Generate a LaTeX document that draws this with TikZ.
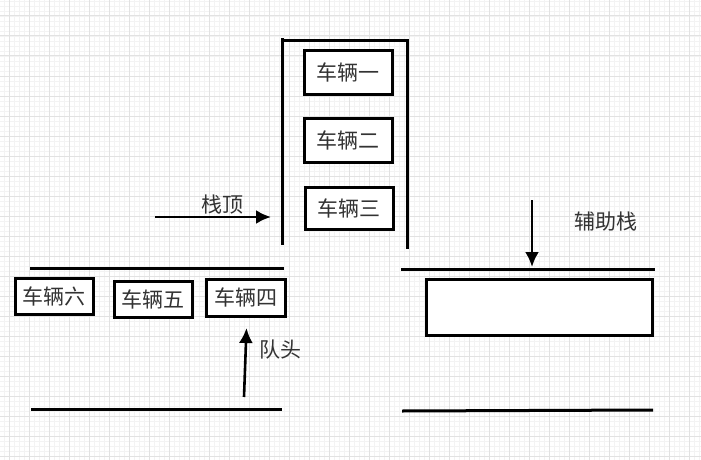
\documentclass[tikz,border=0pt]{standalone}
\usepackage{fontspec}
\newfontfamily\cjk{Noto Sans CJK SC}
\usetikzlibrary{arrows.meta}
\definecolor{gridmajor}{HTML}{E2E2E2}
\definecolor{gridminor}{HTML}{F3F3F3}
\definecolor{txt}{HTML}{333333}
\begin{document}
\begin{tikzpicture}[x=1pt,y=-1pt,
  car/.style={draw=black,line width=3pt,fill=white,inner sep=0pt,
    font=\cjk\fontsize{21}{21}\selectfont,text=txt},
  lbl/.style={inner sep=0pt,font=\cjk\fontsize{21}{21}\selectfont,text=txt},
  wall/.style={line width=3pt,line cap=butt},
  arr/.style={line width=2.6pt,-{Latex[length=15pt,width=14pt]}}]
\useasboundingbox (0,0) rectangle (701,460);
\fill[white] (0,0) rectangle (701,460);
% grid
\foreach \x in {4.5,9.5,...,701} \draw[gridminor,line width=0.8pt] (\x,0) -- (\x,460);
\foreach \y in {1,6,...,460} \draw[gridminor,line width=0.8pt] (0,\y) -- (701,\y);
\foreach \x in {9.5,29.5,...,701} \draw[gridmajor,line width=1pt] (\x,0) -- (\x,460);
\foreach \y in {16,36,...,460} \draw[gridmajor,line width=1pt] (0,\y) -- (701,\y);
% stack
\draw[wall] (282,245) -- (282,38);
\draw[wall] (282,41) -- (407,41) -- (407,249);
\node[car,minimum width=88pt,minimum height=43pt] (c1) at (348,72.5) {车辆一};
\node[car,minimum width=88pt,minimum height=44pt] (c2) at (348,140) {车辆二};
\node[car,minimum width=88pt,minimum height=42pt] (c3) at (349,208) {车辆三};
% stack top arrow
\coordinate (sa) at (155,217);
\coordinate (sb) at (271,217);
\draw[arr] (sa) -- (sb);
\node[lbl] (stop) at (222,205) {栈顶};
% queue
\draw[wall] (30,268) -- (284,268);
\draw[wall] (31,409) -- (282,409);
\node[car,minimum width=78pt,minimum height=36pt] (c6) at (54,296) {车辆六};
\node[car,minimum width=78pt,minimum height=36pt] (c5) at (153,299) {车辆五};
\node[car,minimum width=79pt,minimum height=37pt] (c4) at (245.5,297.5) {车辆四};
\coordinate (qa) at (244,397);
\coordinate (qb) at (246.5,328);
\draw[arr] (qa) -- (qb);
\node[lbl] (qhead) at (280,350) {队头};
% auxiliary stack
\coordinate (aa) at (532,200);
\coordinate (ab) at (532,267);
\draw[arr] (aa) -- (ab);
\node[lbl] (aux) at (606,222) {辅助栈};
\draw[wall] (401,269) -- (655,269);
\draw[wall] (402,411) -- (653,410);
\node[car,minimum width=226pt,minimum height=56pt] (ar) at (539,307) {};
\end{tikzpicture}
\end{document}
